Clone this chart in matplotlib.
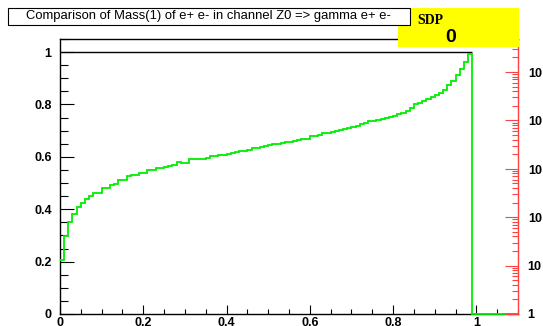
import numpy as np
import matplotlib
matplotlib.use("Agg")
import matplotlib.pyplot as plt
from matplotlib.patches import Rectangle
from matplotlib.ticker import MultipleLocator, LogLocator, FuncFormatter, NullFormatter

plt.rcParams['font.family'] = ['Liberation Sans', 'DejaVu Sans']
plt.rcParams['mathtext.fontset'] = 'custom'
plt.rcParams['mathtext.bf'] = 'Liberation Sans:bold'
plt.rcParams['mathtext.rm'] = 'Liberation Sans:bold'

# ---- Data
bin_width = 0.01
mass_vals = [
    0.206, 0.298, 0.352, 0.381, 0.408, 0.423, 0.438, 0.451, 0.461, 0.462,
    0.480, 0.482, 0.494, 0.496, 0.510, 0.512, 0.528, 0.531, 0.531, 0.540,
    0.540, 0.548, 0.550, 0.557, 0.557, 0.561, 0.566, 0.570, 0.582, 0.576,
    0.578, 0.592, 0.592, 0.592, 0.592, 0.597, 0.602, 0.604, 0.607, 0.609,
    0.611, 0.613, 0.617, 0.621, 0.622, 0.627, 0.634, 0.634, 0.638, 0.643,
    0.646, 0.649, 0.650, 0.652, 0.655, 0.657, 0.662, 0.666, 0.667, 0.670,
    0.678, 0.680, 0.683, 0.691, 0.693, 0.694, 0.698, 0.702, 0.706, 0.709,
    0.714, 0.718, 0.726, 0.728, 0.736, 0.738, 0.742, 0.745, 0.749, 0.753,
    0.757, 0.762, 0.768, 0.774, 0.786, 0.800, 0.806, 0.813, 0.821, 0.830,
    0.838, 0.844, 0.855, 0.876, 0.890, 0.911, 0.934, 0.962, 0.991,
    0., 0., 0., 0., 0., 0., 0., 0.,
]
ref_vals = [1.0] * 99
red_edges = [1.07, 1.1]
red_vals = [0.0]

title = "Comparison of Mass(1) of e+ e- in channel Z0 => gamma e+ e-"
stat_name = "SDP"
stat_value = "0"

mass_edges = np.arange(len(mass_vals) + 1) * bin_width
ref_edges = np.arange(len(ref_vals) + 1) * bin_width

# ---- Plot
W, H = 543, 326
fig = plt.figure(figsize=(W / 100, H / 100), dpi=100)
ax = fig.add_axes([60 / W, 12 / H, 458 / W, 275 / H])
ax.set_xlim(0, 1.1)
ax.set_ylim(0, 1.05)

ax.stairs(ref_vals, ref_edges, color="black", lw=1.0, baseline=None, zorder=3,
          clip_on=False)
ax.stairs(mass_vals, mass_edges, color="#00ee00", lw=1.3, baseline=None, zorder=4,
          clip_on=False)
ax.stairs(red_vals, red_edges, color="#ff4040", lw=1.3, baseline=None, zorder=4,
          clip_on=False)

ax.spines["right"].set_visible(False)
for s in ["left", "top", "bottom"]:
    ax.spines[s].set_linewidth(1.0)

ax.xaxis.set_major_locator(MultipleLocator(0.2))
ax.xaxis.set_minor_locator(MultipleLocator(0.05))
ax.yaxis.set_major_locator(MultipleLocator(0.2))
ax.yaxis.set_minor_locator(MultipleLocator(0.05))
ax.xaxis.set_major_formatter(FuncFormatter(lambda v, p: "%g" % round(v, 2)))
ax.yaxis.set_major_formatter(FuncFormatter(lambda v, p: "%g" % round(v, 2)))
ax.tick_params(axis="x", which="major", direction="in", length=6.5, width=0.8, pad=2,
               labelsize=9)
ax.tick_params(axis="x", which="minor", direction="in", length=3.6, width=0.8)
ax.tick_params(axis="y", which="major", direction="in", length=10, width=0.8, pad=6,
               labelsize=9)
ax.tick_params(axis="y", which="minor", direction="in", length=5.8, width=0.8)
for lab in ax.get_xticklabels() + ax.get_yticklabels():
    lab.set_fontweight("bold")

# right log axis
ax2 = ax.twinx()
ax2.set_yscale("log")
ax2.set_ylim(1, 10 ** (275 / 48.4))
for s in ["left", "top", "bottom"]:
    ax2.spines[s].set_visible(False)
ax2.spines["right"].set_color("#ff4040")
ax2.spines["right"].set_linewidth(1.0)
ax2.yaxis.set_major_locator(LogLocator(base=10, numticks=10))
ax2.yaxis.set_minor_locator(LogLocator(base=10, subs=np.arange(2, 10), numticks=10))
ax2.yaxis.set_minor_formatter(NullFormatter())


def log_fmt(v, p):
    n = int(round(np.log10(v)))
    if n == 0:
        return "1"
    if n == 1:
        return "10"
    return r"$\mathbf{10^{%d}}$" % n


ax2.yaxis.set_major_formatter(FuncFormatter(log_fmt))
ax2.tick_params(axis="y", which="major", direction="in", length=9.4, width=0.8,
                color="#ff4040", pad=7, labelsize=9)
ax2.tick_params(axis="y", which="minor", direction="in", length=4.3, width=0.8,
                color="#ff4040")
for lab in ax2.get_yticklabels():
    lab.set_fontweight("bold")

# yellow stat box
fig.add_artist(Rectangle((398 / W, 1 - 47 / H), 121 / W, 39 / H,
                         transform=fig.transFigure, facecolor="#ffff00",
                         edgecolor="none", zorder=10))
fig.text(417 / W, 1 - 24 / H, stat_name, family="Liberation Serif", weight="bold",
         fontsize=10, ha="left", va="baseline", zorder=11)
fig.text(451 / W, 1 - 37.5 / H, stat_value, weight="bold", fontsize=14,
         ha="center", va="center", zorder=11)

# title box
fig.add_artist(Rectangle((8 / W, 1 - 25 / H), 402 / W, 17 / H,
                         transform=fig.transFigure, facecolor="white",
                         edgecolor="black", lw=0.8, zorder=12))
fig.text(208 / W, 1 - 16.5 / H, title, fontsize=9.4, ha="center", va="center",
         zorder=13)

fig.savefig("out.png", dpi=100)
